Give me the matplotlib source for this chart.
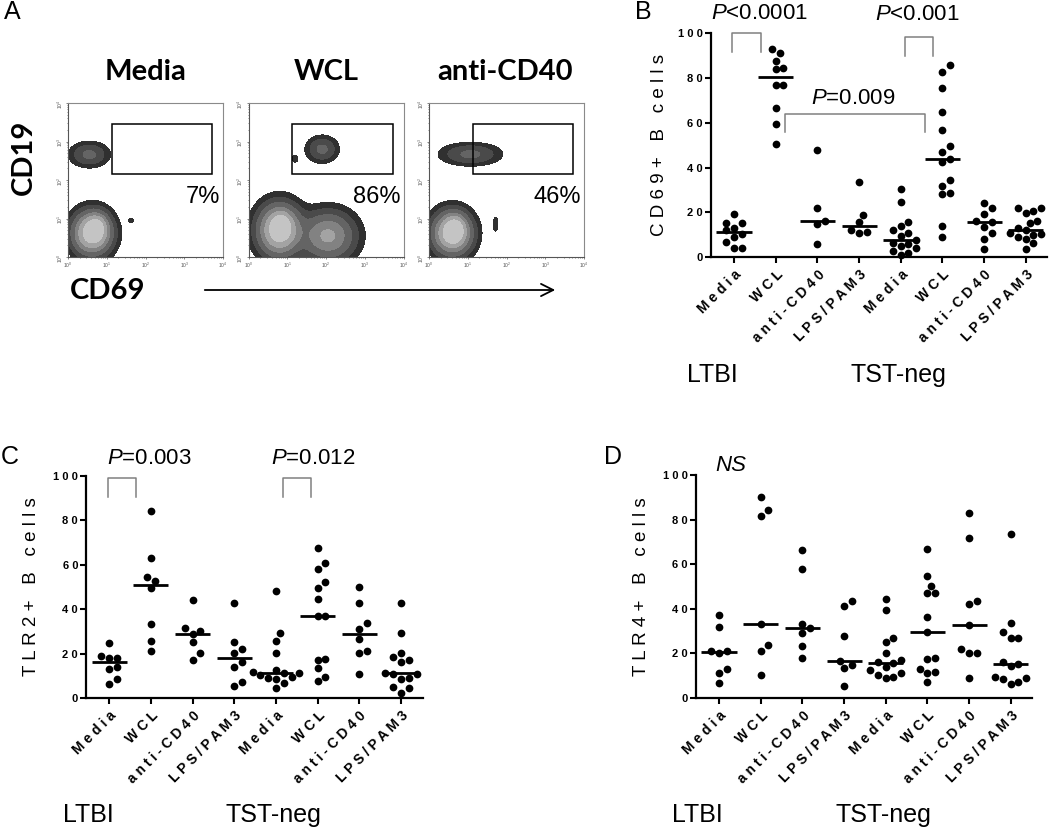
import matplotlib
matplotlib.use("Agg")
import matplotlib.pyplot as plt
import numpy as np
from matplotlib.patches import Rectangle
from matplotlib.transforms import blended_transform_factory

plt.rcParams.update({
    "font.family": ["Liberation Sans", "DejaVu Sans"],
    "mathtext.fontset": "custom",
    "mathtext.rm": "Liberation Sans",
    "mathtext.it": "Liberation Sans:italic",
    "mathtext.bf": "Liberation Sans:bold",
})

# ---- data ---------------------------------------------------------------
STIMULI = ["Media", "WCL", "anti-CD40", "LPS/PAM3"]
COHORTS = ["LTBI", "TST-neg"]

# % positive B cells, one list per column (LTBI x4 stimuli, then TST-neg x4)
CD69_B = [
    [19.2, 15.5, 15.5, 13.0, 12.0, 10.5, 9.0, 7.0, 4.0, 4.0],
    [93.0, 91.0, 87.6, 84.6, 84.0, 77.0, 77.0, 66.5, 59.4, 50.6],
    [47.8, 22.2, 16.0, 15.0, 5.8],
    [33.8, 18.9, 15.6, 12.0, 11.3, 11.0],
    [30.4, 24.9, 15.9, 14.0, 12.0, 11.0, 9.5, 7.7, 6.5, 6.0, 5.0, 4.0, 3.0, 2.0, 1.0],
    [85.9, 82.9, 75.7, 64.7, 56.7, 49.7, 47.2, 43.9, 42.7, 34.5, 32.0, 28.6, 28.1, 14.0, 9.1],
    [24.2, 22.0, 19.3, 16.2, 15.9, 13.5, 11.0, 8.3, 3.7],
    [22.0, 22.0, 20.5, 19.6, 16.0, 15.5, 13.0, 12.2, 11.0, 10.5, 10.0, 9.0, 8.0, 6.5, 3.6],
]
TLR2_B = [
    [24.8, 19.0, 18.3, 18.3, 14.2, 13.0, 8.5, 6.4],
    [84.1, 63.2, 54.5, 52.7, 49.4, 33.2, 25.9, 21.4],
    [44.2, 31.4, 30.4, 28.9, 25.3, 20.2, 17.2],
    [43.0, 25.3, 22.0, 20.2, 16.4, 14.0, 7.5, 5.5],
    [48.0, 29.2, 25.9, 20.2, 12.7, 12.0, 11.5, 11.2, 10.5, 9.5, 9.0, 8.5, 7.0, 4.5],
    [67.4, 61.0, 58.0, 52.4, 49.7, 44.6, 36.8, 36.8, 17.5, 17.2, 13.5, 9.4, 7.8],
    [50.1, 42.7, 33.7, 31.1, 26.6, 21.4, 20.2, 10.8],
    [42.7, 29.2, 20.2, 18.7, 17.2, 16.5, 11.5, 11.0, 10.8, 9.0, 8.5, 5.2, 4.8, 2.2],
]
TLR4_B = [
    [37.0, 31.6, 21.0, 21.0, 20.2, 12.7, 11.0, 6.7],
    [90.3, 84.3, 81.7, 33.2, 23.7, 21.1, 10.2],
    [66.3, 57.6, 33.1, 31.1, 29.2, 23.4, 18.0],
    [43.6, 41.2, 27.7, 16.5, 14.7, 13.2, 5.2],
    [44.2, 39.4, 26.6, 24.9, 19.9, 17.0, 16.0, 15.5, 14.0, 12.5, 11.0, 10.0, 9.5, 9.0],
    [66.6, 54.8, 50.3, 47.2, 46.9, 36.4, 29.6, 18.0, 17.4, 12.9, 11.7, 10.9, 7.2],
    [82.8, 71.6, 43.6, 41.9, 32.6, 21.7, 19.9, 19.9, 8.7],
    [73.4, 33.4, 29.6, 26.6, 26.6, 15.9, 15.0, 14.4, 9.4, 9.0, 8.5, 7.2, 6.0],
]

# panel A: representative flow plots (log10 decades of CD69 / CD19)
FLOW_CONDITIONS = ["Media", "WCL", "anti-CD40"]
FLOW_GATE_PCT = [7, 86, 46]
# populations: (CD69 centre, CD19 centre, spread CD69, spread CD19, weight)
FLOW_POPULATIONS = [
    [(0.55, 2.66, 0.28, 0.18, 0.20), (0.62, 0.62, 0.29, 0.32, 1.0),
     (0.75, 0.80, 0.16, 0.20, 0.35), (1.62, 0.95, 0.06, 0.05, 0.05)],
    [(1.90, 2.80, 0.23, 0.19, 0.20), (1.20, 2.55, 0.06, 0.07, 0.06),
     (0.80, 0.70, 0.32, 0.38, 1.0), (0.85, 0.85, 0.14, 0.18, 0.35),
     (2.05, 0.55, 0.40, 0.36, 0.55)],
    [(1.07, 2.67, 0.43, 0.16, 0.20), (0.60, 0.62, 0.29, 0.32, 1.0),
     (0.68, 0.75, 0.15, 0.20, 0.35), (1.72, 0.85, 0.05, 0.15, 0.06)],
]
FLOW_GATE = (1.13, 2.16, 3.72, 3.45)

W, H = 1050, 831
fig = plt.figure(figsize=(W / 100, H / 100), dpi=100)


def spread(text, sep):
    return sep.join(text)


def swarm(values, sx, sy, dia):
    # simple beeswarm: nudge each dot sideways until it does not overlap
    order = np.argsort(values)
    placed = []
    offsets = np.zeros(len(values))
    step = 0.5 * dia / sx
    for idx in order:
        y = values[idx]
        cand = 0.0
        for k in range(60):
            cand = 0.0 if k == 0 else ((k + 1) // 2) * step * (1 if k % 2 else -1)
            if all(np.hypot((cand - ox) * sx, (y - oy) * sy) >= dia for ox, oy in placed):
                break
        offsets[idx] = cand
        placed.append((cand, y))
    return offsets


# ---- panel A --------------------------------------------------------------
fig.text(12 / W, 1 - 12 / H, "A", fontsize=18, ha="center", va="center")
grid = np.linspace(0, 4, 400)
GX, GY = np.meshgrid(grid, grid)
levels = [0.03, 0.08, 0.17, 0.32, 0.5, 0.75, 50]
shades = ["#303030", "#4a4a4a", "#646464", "#828282", "#a3a3a3", "#c4c4c4"]
for k, cond in enumerate(FLOW_CONDITIONS):
    x0 = [68, 248.5, 429][k]
    ax = fig.add_axes([x0 / W, 1 - 257 / H, 155 / W, 154 / H])
    dens = np.zeros_like(GX)
    for cx, cy, sdx, sdy, wt in FLOW_POPULATIONS[k]:
        dens += wt * np.exp(-0.5 * ((GX - cx) / sdx) ** 2 - 0.5 * ((GY - cy) / sdy) ** 2)
    ax.contourf(GX, GY, dens, levels=levels, colors=shades)
    gx0, gy0, gx1, gy1 = FLOW_GATE
    ax.add_patch(Rectangle((gx0, gy0), gx1 - gx0, gy1 - gy0, fill=False,
                           ec="black", lw=1.1))
    ax.text(3.92, 1.56, f"{FLOW_GATE_PCT[k]}%", fontsize=17, ha="right", va="center")
    ax.set_xlim(0, 4)
    ax.set_ylim(0, 4)
    decade_labels = [f"$10^{{{d}}}$" for d in range(5)]
    ax.set_xticks(range(5), decade_labels, fontsize=3.5, color="#444444")
    ax.set_yticks(range(5), decade_labels, fontsize=3.5, color="#444444", rotation=90)
    minor = [d + np.log10(m) for d in range(4) for m in range(2, 10)]
    ax.set_xticks(minor, minor=True)
    ax.set_yticks(minor, minor=True)
    ax.tick_params(which="both", length=1.5, width=0.5, pad=1, colors="#555555")
    ax.tick_params(which="minor", length=1.0)
    for side in ("top", "right"):
        ax.spines[side].set_color("#8a8a8a")
    for side in ("left", "bottom"):
        ax.spines[side].set_color("#555555")
    for sp in ax.spines.values():
        sp.set_linewidth(0.8)
    cx_title = x0 + 77.5 if k < 2 else 505
    fig.text(cx_title / W, 1 - 72 / H, cond, family="Lato", fontweight="bold",
             fontsize=21, ha="center", va="center")

fig.text(24 / W, 1 - 157 / H, "CD19", family="Lato", fontweight="bold",
         fontsize=21, rotation=90, ha="center", va="center")
fig.text(108 / W, 1 - 291 / H, "CD69", family="Lato", fontweight="bold",
         fontsize=21, ha="center", va="center")
fig.add_artist(matplotlib.patches.FancyArrowPatch(
    (202 / W, 1 - 290 / H), (558 / W, 1 - 290 / H), transform=fig.transFigure,
    arrowstyle="->", mutation_scale=22, lw=1.3, color="black"))


# ---- dot plot panels ------------------------------------------------------
XLIM = (-0.55, 7.52)


def dot_panel(cat0_px, axis_bottom_px, axis_top_px, groups, ylabel, ylabel_dx,
              letter, letter_xy, notes, brackets):
    px_per_cat = 41.67
    left = cat0_px + XLIM[0] * px_per_cat
    width = (XLIM[1] - XLIM[0]) * px_per_cat
    height = axis_bottom_px - axis_top_px
    ax = fig.add_axes([left / W, 1 - axis_bottom_px / H, width / W, height / H])
    ax.set_xlim(*XLIM)
    ax.set_ylim(0, 100)
    sx = px_per_cat
    sy = height / 100
    for i, vals in enumerate(groups):
        v = np.asarray(vals, dtype=float)
        off = swarm(v, sx, sy, 7.8)
        ax.scatter(i + off, v, s=31, c="black", lw=0, clip_on=False, zorder=3)
        ax.hlines(np.median(v), i - 0.42, i + 0.42, color="black", lw=2.0, zorder=4)

    ax.set_xticks(range(8))
    ax.set_xticklabels([spread(s, " ") for s in STIMULI * 2], fontsize=10,
                       fontweight="bold", rotation=45, ha="right",
                       rotation_mode="anchor")
    yt = [0, 20, 40, 60, 80, 100]
    ax.set_yticks(yt)
    ax.set_yticklabels([spread(str(t), " ") for t in yt], fontsize=8,
                       fontweight="bold")
    ax.tick_params(axis="both", width=1.5, length=4.5, pad=1.5)
    ax.tick_params(axis="x", pad=3)
    for side in ("top", "right"):
        ax.spines[side].set_visible(False)
    for side in ("left", "bottom"):
        ax.spines[side].set_linewidth(1.6)

    ax.text(ylabel_dx, 0.5, spread(ylabel, " "), transform=ax.transAxes,
            rotation=90, fontsize=13.5, ha="center", va="center")

    tr = blended_transform_factory(ax.transData, ax.transAxes)
    ax.text(-1.12, -0.525, COHORTS[0], transform=tr, fontsize=18, ha="left", va="center")
    ax.text(2.8, -0.525, COHORTS[1], transform=tr, fontsize=18, ha="left", va="center")

    for x1, x2, ytop, ybot in brackets:
        ax.plot([x1, x1, x2, x2], [ybot, ytop, ytop, ybot], color="#808080",
                lw=1.1, clip_on=False)
    for x, y, txt, style in notes:
        ax.text(x, y, txt, fontsize=16, ha="center", va="center", style=style,
                clip_on=False)

    fig.text(letter_xy[0] / W, 1 - letter_xy[1] / H, letter, fontsize=18,
             ha="center", va="center")
    return ax


dot_panel(734, 257.3, 33.3, CD69_B, "CD69+ B cells", -0.152, "B", (643, 12),
          [(0.62, 109, "$P$<0.0001", "normal"), (4.39, 108.5, "$P$<0.001", "normal"),
           (2.86, 71, "$P$=0.009", "normal")],
          [(-0.04, 0.64, 100, 91.8), (4.1, 4.78, 98.2, 90.0), (1.22, 4.58, 64, 55.8)])

dot_panel(109.3, 698.3, 475.7, TLR2_B, "TLR2+ B cells", -0.164, "C", (10, 457),
          [(0.97, 107.8, "$P$=0.003", "normal"), (4.9, 107.8, "$P$=0.012", "normal")],
          [(-0.02, 0.64, 98.8, 90.3), (4.16, 4.84, 98.8, 90.3)])

dot_panel(719, 697.7, 475.0, TLR4_B, "TLR4+ B cells", -0.161, "D", (613, 457),
          [(0.28, 104.3, "NS", "italic")], [])

fig.savefig("out.png", dpi=100, facecolor="white")
